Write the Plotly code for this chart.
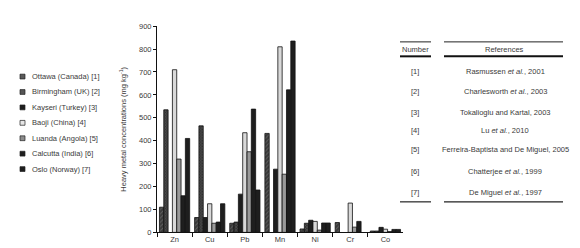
import plotly.graph_objects as go

W, H = 580, 248

categories = ["Zn", "Cu", "Pb", "Mn", "Ni", "Cr", "Co"]
series_names = ["Ottawa (Canada) [1]", "Birmingham (UK) [2]", "Kayseri (Turkey) [3]",
                "Baoji (China) [4]", "Luanda (Angola) [5]", "Calcutta (India) [6]",
                "Oslo (Norway) [7]"]
ottawa = [110, 65, 40, 432, 15, 43, 6]
birmingham = [535, 465, 45, None, 40, None, 6]
kayseri = [None, 65, 167, 276, 53, None, 22]
baoji = [710, 125, 435, 810, 48, 128, 14]
luanda = [320, 40, 352, 254, 10, 23, 4]
calcutta = [160, 45, 538, 622, 41, 48, 13]
oslo = [410, 125, 185, 835, 41, None, 13]
y_ticks = [0, 100, 200, 300, 400, 500, 600, 700, 800, 900]

ref_numbers = ["[1]", "[2]", "[3]", "[4]", "[5]", "[6]", "[7]"]
ref_texts = ["Rasmussen <i>et al.</i>, 2001", "Charlesworth <i>et al.</i>, 2003",
             "Tokalioglu and Kartal, 2003", "Lu <i>et al.</i>, 2010",
             "Ferreira-Baptista and De Miguel, 2005", "Chatterjee <i>et al.</i>, 1999",
             "De Miguel <i>et al.</i>, 1997"]

all_series = [ottawa, birmingham, kayseri, baoji, luanda, calcutta, oslo]
styles = [
    dict(color="#3a3a3a", pattern=dict(shape="/", fgcolor="#8a8a8a", bgcolor="#3a3a3a", size=3, solidity=0.3)),
    dict(color="#3c3c3c", pattern=dict(shape="x", fgcolor="#8a8a8a", bgcolor="#333333", size=2, solidity=0.4)),
    dict(color="#1e1e1e"),
    dict(color="#d9d9d9"),
    dict(color="#9a9a9a"),
    dict(color="#1e1e1e"),
    dict(color="#1e1e1e"),
]
swatch_colors = ["#5a5a5a", "#555555", "#1e1e1e", "#e6e6e6", "#8c8c8c", "#1e1e1e", "#1e1e1e"]

FONT = "Liberation Sans, Arial, sans-serif"
TXT = "#3a3a3a"

fig = go.Figure()
for name, vals, st in zip(series_names, all_series, styles):
    marker = dict(color=st["color"], line=dict(color="#111111", width=0.8))
    if "pattern" in st:
        marker["pattern"] = st["pattern"]
    fig.add_trace(go.Bar(x=categories, y=vals, name=name, marker=marker, showlegend=False))

def px(x):
    return x / W

def py(y):
    return 1 - y / H

shapes = []
annotations = []
# manual legend
leg_y = [67, 83, 99, 115, 131, 147, 163]
for yy, name, c in zip(leg_y, series_names, swatch_colors):
    shapes.append(dict(type="rect", xref="paper", yref="paper",
                       x0=px(12), x1=px(17), y0=py(yy + 2.5), y1=py(yy - 2.5),
                       fillcolor=c, line=dict(color="#222222", width=0.7)))
    annotations.append(dict(text=name, xref="paper", yref="paper", x=px(22), y=py(yy),
                            xanchor="left", yanchor="middle", showarrow=False,
                            font=dict(size=7.5, color=TXT, family=FONT)))

# reference table
annotations.append(dict(text="Number", xref="paper", yref="paper", x=px(407), y=py(39),
                        xanchor="center", yanchor="middle", showarrow=False,
                        font=dict(size=7.5, color=TXT, family=FONT)))
annotations.append(dict(text="References", xref="paper", yref="paper", x=px(496), y=py(39),
                        xanchor="center", yanchor="middle", showarrow=False,
                        font=dict(size=7.5, color=TXT, family=FONT)))
row_y = [62, 82, 104, 123, 143, 165, 187]
for yy, n, t in zip(row_y, ref_numbers, ref_texts):
    annotations.append(dict(text=n, xref="paper", yref="paper", x=px(407), y=py(yy),
                            xanchor="center", yanchor="middle", showarrow=False,
                            font=dict(size=7.5, color=TXT, family=FONT)))
    annotations.append(dict(text=t, xref="paper", yref="paper", x=px(497), y=py(yy),
                            xanchor="center", yanchor="middle", showarrow=False,
                            font=dict(size=7.5, color=TXT, family=FONT)))
for (x0, x1) in [(392, 423), (436, 555)]:
    shapes.append(dict(type="line", xref="paper", yref="paper", x0=px(x0), x1=px(x1),
                       y0=py(31), y1=py(31), line=dict(color="#222222", width=1)))
    shapes.append(dict(type="line", xref="paper", yref="paper", x0=px(x0), x1=px(x1),
                       y0=py(46), y1=py(46), line=dict(color="#111111", width=2)))
    shapes.append(dict(type="line", xref="paper", yref="paper", x0=px(x0), x1=px(x1),
                       y0=py(197), y1=py(197), line=dict(color="#222222", width=1.2)))

fig.update_layout(
    width=W, height=H,
    margin=dict(l=0, r=0, t=0, b=0),
    paper_bgcolor="white", plot_bgcolor="white",
    barmode="group", bargap=0.14, bargroupgap=0,
    font=dict(family=FONT, size=7.5, color=TXT),
    shapes=shapes, annotations=annotations,
    xaxis=dict(domain=[px(149), px(395)], showline=True, linecolor="#111111", linewidth=1,
               ticks="outside", tickson="boundaries", ticklen=4, tickcolor="#111111",
               showgrid=False, tickfont=dict(size=7.5, color=TXT, family=FONT)),
    yaxis=dict(domain=[py(228.7), py(14.7)], range=[0, 900], tickvals=y_ticks,
               showline=True, linecolor="#111111", linewidth=1, ticks="outside",
               ticklen=3, tickcolor="#111111", showgrid=False, zeroline=False,
               tickfont=dict(size=7.5, color=TXT, family=FONT),
               title=dict(text="Heavy metal concentrations (mg kg<sup>-1</sup>)",
                          font=dict(size=7.5, color=TXT, family=FONT), standoff=11)),
)

fig.write_html("out.html")
